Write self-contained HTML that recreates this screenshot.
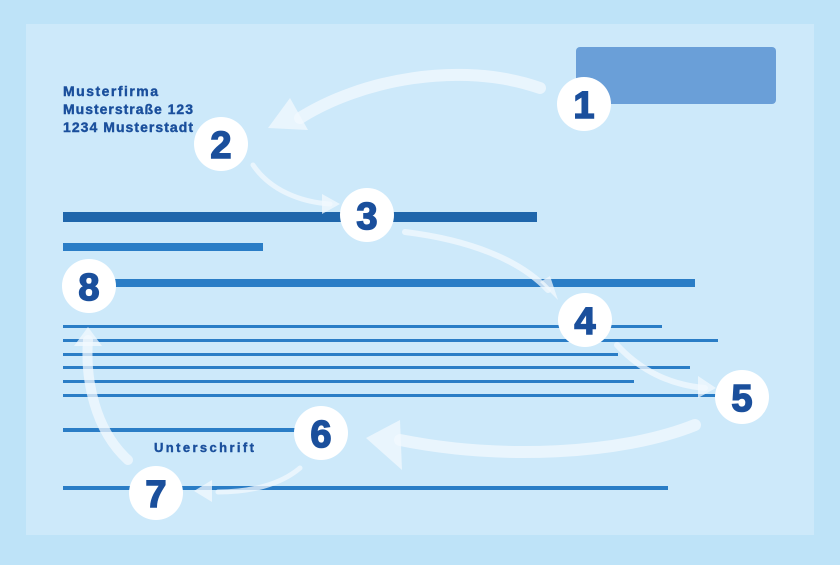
<!DOCTYPE html>
<html><head><meta charset="utf-8"><style>
body{margin:0;width:840px;height:560px;background:#bee3f8;overflow:hidden;font-family:"Liberation Sans",sans-serif}
</style></head><body>
<svg width="840" height="560" viewBox="0 0 840 560" xmlns="http://www.w3.org/2000/svg">
<rect x="0" y="0" width="840" height="560" fill="#bee3f8"/>
<rect x="26" y="24" width="788" height="511" fill="#cde9fa"/>
<rect x="576" y="47" width="200" height="57" rx="4" fill="#6a9fd8"/>
<g font-family="Liberation Sans, sans-serif" font-weight="bold" font-size="14" fill="#1a4f9c" stroke="#1a4f9c" stroke-width="0.4">
<text x="63" y="96" textLength="95">Musterfirma</text>
<text x="63" y="114" textLength="130">Musterstraße 123</text>
<text x="63" y="132" textLength="130">1234 Musterstadt</text>
<text x="154" y="452" font-size="13" textLength="100">Unterschrift</text>
</g>
<g fill="#1f66ab">
<rect x="63" y="212" width="474" height="10"/>
<rect x="63" y="243" width="200" height="8" fill="#2a7dc6"/>
<rect x="63" y="279" width="632" height="8" fill="#2a7dc6"/>
<rect x="63" y="325" width="599" height="3" fill="#2a7dc6"/>
<rect x="63" y="339" width="655" height="3" fill="#2a7dc6"/>
<rect x="63" y="353" width="555" height="3" fill="#2a7dc6"/>
<rect x="63" y="366" width="627" height="3" fill="#2a7dc6"/>
<rect x="63" y="380" width="571" height="3" fill="#2a7dc6"/>
<rect x="63" y="394" width="655" height="3" fill="#2a7dc6"/>
<rect x="63" y="428" width="250" height="4" fill="#2a7dc6"/>
<rect x="63" y="486" width="605" height="4" fill="#2a7dc6"/>
</g>
<g fill="none" stroke="#f2f8fd" stroke-opacity="0.75" stroke-linecap="round">
<path d="M540 88 C460 60 360 80 300 118" stroke-width="12"/>
<path d="M253 165 C270 190 300 202 330 204" stroke-width="5"/>
<path d="M405 232 C470 240 520 260 548 290" stroke-width="6"/>
<path d="M617 345 C640 370 670 385 705 388" stroke-width="6"/>
<path d="M695 425 C620 455 500 460 400 440" stroke-width="12"/>
<path d="M300 468 C280 485 250 492 218 492" stroke-width="5"/>
<path d="M128 460 C95 430 85 380 88 340" stroke-width="10"/>
</g>
<g fill="#f2f8fd" fill-opacity="0.75">
<polygon points="268,128 290,98 308,130"/>
<polygon points="340,204 322,194 322,214"/>
<polygon points="558,300 540,282 550,276"/>
<polygon points="716,388 698,376 698,398"/>
<polygon points="366,438 400,420 402,470"/>
<polygon points="194,491 212,480 212,502"/>
<polygon points="88,327 74,346 102,346"/>
</g>
<g fill="#fff">
<circle cx="584" cy="104" r="27"/><circle cx="221" cy="144" r="27"/>
<circle cx="367" cy="215" r="27"/><circle cx="585" cy="320" r="27"/>
<circle cx="742" cy="397" r="27"/><circle cx="321" cy="433" r="27"/>
<circle cx="156" cy="493" r="27"/><circle cx="89" cy="286" r="27"/>
</g>
<g font-family="Liberation Sans, sans-serif" font-weight="bold" font-size="38" fill="#1a4f9c" stroke="#1a4f9c" stroke-width="1.5" text-anchor="middle">
<text x="584" y="118">1</text><text x="221" y="158">2</text>
<text x="367" y="229">3</text><text x="585" y="334">4</text>
<text x="742" y="411">5</text><text x="321" y="447">6</text>
<text x="156" y="507">7</text><text x="89" y="300">8</text>
</g>
</svg>
</body></html>
